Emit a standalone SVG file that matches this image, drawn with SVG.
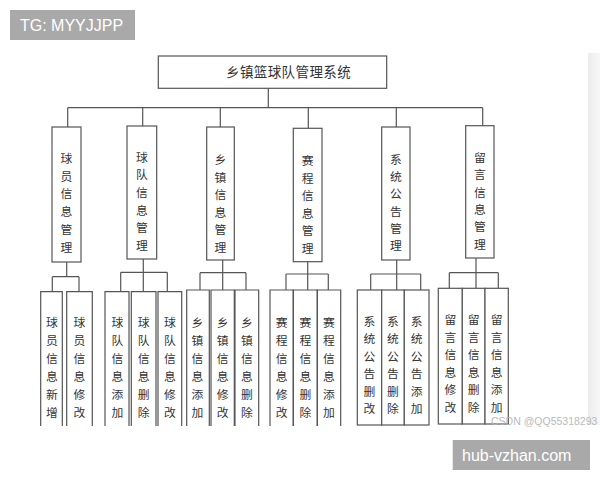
<svg xmlns="http://www.w3.org/2000/svg" width="600" height="480" viewBox="0 0 600 480">
<defs>
<linearGradient id="strip" x1="0" y1="0" x2="1" y2="0"><stop offset="0" stop-color="#ececec"/><stop offset="1" stop-color="#f7f7f7"/></linearGradient>
<style>
.box{fill:#fff;stroke:#555;stroke-width:1.2}
.open{fill:none;stroke:#555;stroke-width:1.2}
.con{fill:none;stroke:#555;stroke-width:1.2}
text.c{font-family:"Noto Sans CJK SC","Noto Sans CJK JP",sans-serif;font-size:11.8px;fill:#333;text-anchor:middle}
.root{font-family:"Noto Sans CJK SC",sans-serif;font-size:13.5px;fill:#333;letter-spacing:0.4px}
.wm{font-family:"Liberation Sans",Arial,sans-serif;fill:#fff;font-size:16px}
</style>
</defs>
<rect width="600" height="480" fill="#fff"/>
<rect x="588" y="53" width="12" height="372" fill="url(#strip)"/>

<g id="connectors">
<path class="con" d="M268.3 88V107.7M67.7 107.7H482.7M67.7 107.7V127M142.7 107.7V126M220.3 107.7V127M308.3 107.7V128.3M396.3 107.7V127M482.7 107.7V125.7"/>
<path class="con" d="M66.7 262V276.7M52.3 276.7H79M52.3 276.7V291.7M79 276.7V291.7"/>
<path class="con" d="M143.3 259V272.3M120.7 272.3H167.3M120.7 272.3V291.7M143.3 272.3V291.7M167.3 272.3V291.7"/>
<path class="con" d="M222.7 260V272.7M200 272.7H246M200 272.7V290M222.7 272.7V290M246 272.7V290"/>
<path class="con" d="M307.7 261.7V274M286 274H328.3M286 274V290M307.7 274V290M328.3 274V290"/>
<path class="con" d="M396.7 260V274M370.7 274H420.7M370.7 274V290M396.7 274V290M420.7 274V290"/>
<path class="con" d="M476 258V272.7M449.3 272.7H498.3M449.3 272.7V288.3M476 272.7V288.3M498.3 272.7V288.3"/>
</g>

<g id="root">
<rect class="box" x="158.3" y="56" width="228.4" height="32.3"/>
<text class="root" x="226" y="77">乡镇篮球队管理系统</text>
</g>

<g id="n1"><rect class="box" x="52" y="127" width="29" height="135"/>
<text class="c" x="66.5" y="163">球</text><text class="c" x="66.5" y="180.7">员</text><text class="c" x="66.5" y="198.4">信</text><text class="c" x="66.5" y="216.1">息</text><text class="c" x="66.5" y="233.8">管</text><text class="c" x="66.5" y="251.5">理</text></g>
<g id="n2"><rect class="box" x="127" y="126" width="29.7" height="133"/>
<text class="c" x="141.8" y="161.5">球</text><text class="c" x="141.8" y="179.2">队</text><text class="c" x="141.8" y="196.9">信</text><text class="c" x="141.8" y="214.6">息</text><text class="c" x="141.8" y="232.3">管</text><text class="c" x="141.8" y="250">理</text></g>
<g id="n3"><rect class="box" x="206.7" y="127" width="27.6" height="133"/>
<text class="c" x="220.5" y="164">乡</text><text class="c" x="220.5" y="181.5">镇</text><text class="c" x="220.5" y="199">信</text><text class="c" x="220.5" y="216.5">息</text><text class="c" x="220.5" y="234">管</text><text class="c" x="220.5" y="251.5">理</text></g>
<g id="n4"><rect class="box" x="293.3" y="128.3" width="28.7" height="133.4"/>
<text class="c" x="307.7" y="165">赛</text><text class="c" x="307.7" y="182.5">程</text><text class="c" x="307.7" y="200">信</text><text class="c" x="307.7" y="217.5">息</text><text class="c" x="307.7" y="235">管</text><text class="c" x="307.7" y="252.5">理</text></g>
<g id="n5"><rect class="box" x="381.7" y="127" width="28.3" height="133"/>
<text class="c" x="395.8" y="164">系</text><text class="c" x="395.8" y="181.2">统</text><text class="c" x="395.8" y="198.4">公</text><text class="c" x="395.8" y="215.6">告</text><text class="c" x="395.8" y="232.8">管</text><text class="c" x="395.8" y="250">理</text></g>
<g id="n6"><rect class="box" x="465.7" y="125.7" width="28.3" height="132.3"/>
<text class="c" x="479.8" y="162">留</text><text class="c" x="479.8" y="179.3">言</text><text class="c" x="479.8" y="196.6">信</text><text class="c" x="479.8" y="213.9">息</text><text class="c" x="479.8" y="231.2">管</text><text class="c" x="479.8" y="248.5">理</text></g>

<g id="l1a"><path class="open" d="M40.7 426V291.7H62.3V426"/>
<text class="c" x="52" y="326.5">球</text><text class="c" x="52" y="344.5">员</text><text class="c" x="52" y="362.5">信</text><text class="c" x="52" y="380.5">息</text><text class="c" x="52" y="398.5">新</text><text class="c" x="52" y="416.5">增</text></g>
<g id="l1b"><path class="open" d="M66.7 426V291.7H92.3V426"/>
<text class="c" x="79.5" y="326.5">球</text><text class="c" x="79.5" y="344.5">员</text><text class="c" x="79.5" y="362.5">信</text><text class="c" x="79.5" y="380.5">息</text><text class="c" x="79.5" y="398.5">修</text><text class="c" x="79.5" y="416.5">改</text></g>
<g id="l2a"><path class="open" d="M105 426V291.7H129V426"/>
<text class="c" x="117.5" y="326.5">球</text><text class="c" x="117.5" y="344.5">队</text><text class="c" x="117.5" y="362.5">信</text><text class="c" x="117.5" y="380.5">息</text><text class="c" x="117.5" y="398.5">添</text><text class="c" x="117.5" y="416.5">加</text></g>
<g id="l2b"><path class="open" d="M131.3 426V291.7H156V426"/>
<text class="c" x="143.7" y="326.5">球</text><text class="c" x="143.7" y="344.5">队</text><text class="c" x="143.7" y="362.5">信</text><text class="c" x="143.7" y="380.5">息</text><text class="c" x="143.7" y="398.5">删</text><text class="c" x="143.7" y="416.5">除</text></g>
<g id="l2c"><path class="open" d="M158 426V291.7H181.7V426"/>
<text class="c" x="170" y="326.5">球</text><text class="c" x="170" y="344.5">队</text><text class="c" x="170" y="362.5">信</text><text class="c" x="170" y="380.5">息</text><text class="c" x="170" y="398.5">修</text><text class="c" x="170" y="416.5">改</text></g>
<g id="l3a"><path class="open" d="M186.7 426V290H209.3V426"/>
<text class="c" x="197.5" y="326.5">乡</text><text class="c" x="197.5" y="344.5">镇</text><text class="c" x="197.5" y="362.5">信</text><text class="c" x="197.5" y="380.5">息</text><text class="c" x="197.5" y="398.5">添</text><text class="c" x="197.5" y="416.5">加</text></g>
<g id="l3b"><path class="open" d="M211 426V290H234.3V426"/>
<text class="c" x="222.7" y="326.5">乡</text><text class="c" x="222.7" y="344.5">镇</text><text class="c" x="222.7" y="362.5">信</text><text class="c" x="222.7" y="380.5">息</text><text class="c" x="222.7" y="398.5">修</text><text class="c" x="222.7" y="416.5">改</text></g>
<g id="l3c"><path class="open" d="M235 426V290H258.7V426"/>
<text class="c" x="246.8" y="326.5">乡</text><text class="c" x="246.8" y="344.5">镇</text><text class="c" x="246.8" y="362.5">信</text><text class="c" x="246.8" y="380.5">息</text><text class="c" x="246.8" y="398.5">删</text><text class="c" x="246.8" y="416.5">除</text></g>
<g id="l4a"><path class="open" d="M270 426V290H293.3V426"/>
<text class="c" x="281.7" y="326.5">赛</text><text class="c" x="281.7" y="344.5">程</text><text class="c" x="281.7" y="362.5">信</text><text class="c" x="281.7" y="380.5">息</text><text class="c" x="281.7" y="398.5">修</text><text class="c" x="281.7" y="416.5">改</text></g>
<g id="l4b"><path class="open" d="M293.3 426V290H317.3V426"/>
<text class="c" x="305.3" y="326.5">赛</text><text class="c" x="305.3" y="344.5">程</text><text class="c" x="305.3" y="362.5">信</text><text class="c" x="305.3" y="380.5">息</text><text class="c" x="305.3" y="398.5">删</text><text class="c" x="305.3" y="416.5">除</text></g>
<g id="l4c"><path class="open" d="M317.3 426V290H340.7V426"/>
<text class="c" x="329" y="326.5">赛</text><text class="c" x="329" y="344.5">程</text><text class="c" x="329" y="362.5">信</text><text class="c" x="329" y="380.5">息</text><text class="c" x="329" y="398.5">添</text><text class="c" x="329" y="416.5">加</text></g>
<g id="l5a"><rect class="box" x="357.3" y="290" width="24.4" height="135"/>
<text class="c" x="369.5" y="325.5">系</text><text class="c" x="369.5" y="343">统</text><text class="c" x="369.5" y="360.5">公</text><text class="c" x="369.5" y="378">告</text><text class="c" x="369.5" y="395.5">删</text><text class="c" x="369.5" y="413">改</text></g>
<g id="l5b"><rect class="box" x="381.7" y="290" width="22.6" height="135"/>
<text class="c" x="393" y="325.5">系</text><text class="c" x="393" y="343">统</text><text class="c" x="393" y="360.5">公</text><text class="c" x="393" y="378">告</text><text class="c" x="393" y="395.5">删</text><text class="c" x="393" y="413">除</text></g>
<g id="l5c"><rect class="box" x="404.3" y="290" width="24.7" height="135"/>
<text class="c" x="416.7" y="325.5">系</text><text class="c" x="416.7" y="343">统</text><text class="c" x="416.7" y="360.5">公</text><text class="c" x="416.7" y="378">告</text><text class="c" x="416.7" y="395.5">添</text><text class="c" x="416.7" y="413">加</text></g>
<g id="l6a"><rect class="box" x="438.3" y="288.3" width="24" height="135.7"/>
<text class="c" x="450.3" y="324.3">留</text><text class="c" x="450.3" y="341.8">言</text><text class="c" x="450.3" y="359.3">信</text><text class="c" x="450.3" y="376.8">息</text><text class="c" x="450.3" y="394.3">修</text><text class="c" x="450.3" y="411.8">改</text></g>
<g id="l6b"><rect class="box" x="462.3" y="288.3" width="22.7" height="135.7"/>
<text class="c" x="473.7" y="324.3">留</text><text class="c" x="473.7" y="341.8">言</text><text class="c" x="473.7" y="359.3">信</text><text class="c" x="473.7" y="376.8">息</text><text class="c" x="473.7" y="394.3">删</text><text class="c" x="473.7" y="411.8">除</text></g>
<g id="l6c"><rect class="box" x="485" y="288.3" width="23.3" height="135.7"/>
<text class="c" x="496.7" y="324.3">留</text><text class="c" x="496.7" y="341.8">言</text><text class="c" x="496.7" y="359.3">信</text><text class="c" x="496.7" y="376.8">息</text><text class="c" x="496.7" y="394.3">添</text><text class="c" x="496.7" y="411.8">加</text></g>

<text x="491" y="425" font-family="'Liberation Sans',Arial,sans-serif" font-size="10.5" fill="#b4b4b4" opacity="0.9">CSDN @QQ55318293</text>
<rect x="10" y="10" width="125" height="30" fill="#a9a9a9"/>
<text class="wm" x="20" y="31">TG: MYYJJPP</text>
<rect x="452.7" y="440" width="137.3" height="30" fill="#a9a9a9"/>
<text class="wm" x="462" y="461">hub-vzhan.com</text>
</svg>
